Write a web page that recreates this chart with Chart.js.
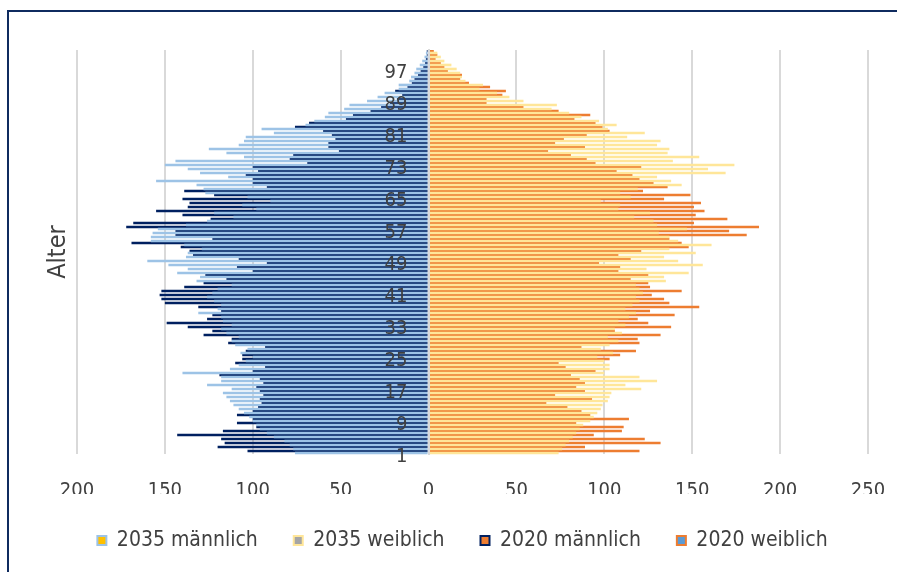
<!DOCTYPE html>
<html lang="de">
<head>
<meta charset="utf-8">
<title>Alterspyramide 2020 / 2035</title>
<script src="https://cdn.jsdelivr.net/npm/chart.js@4.4.1/dist/chart.umd.min.js"></script>
<style>
  html, body { margin: 0; padding: 0; background: #fff; }
  #wrap { position: relative; width: 901px; height: 572px; overflow: hidden; }
  #frame {
    position: absolute; left: 7px; top: 10px; right: 4px; bottom: -10px;
    border-top: 2px solid #0f2b5f; border-left: 2px solid #0f2b5f;
    pointer-events: none;
  }
  canvas { display: block; }
</style>
</head>
<body>
<div id="wrap">
  <canvas id="pyramid" width="901" height="572"></canvas>
  <div id="frame"></div>
</div>
<script>
const ages = [
  1, 2, 3, 4, 5, 6, 7, 8, 9, 10,
  11, 12, 13, 14, 15, 16, 17, 18, 19, 20,
  21, 22, 23, 24, 25, 26, 27, 28, 29, 30,
  31, 32, 33, 34, 35, 36, 37, 38, 39, 40,
  41, 42, 43, 44, 45, 46, 47, 48, 49, 50,
  51, 52, 53, 54, 55, 56, 57, 58, 59, 60,
  61, 62, 63, 64, 65, 66, 67, 68, 69, 70,
  71, 72, 73, 74, 75, 76, 77, 78, 79, 80,
  81, 82, 83, 84, 85, 86, 87, 88, 89, 90,
  91, 92, 93, 94, 95, 96, 97, 98, 99, 100,
  101
];
const ageTicks = [1, 9, 17, 25, 33, 41, 49, 57, 65, 73, 81, 89, 97];

// values per age, 1 .. 101
const male2035 = [
  76, 77, 79, 82, 88, 92, 96, 98, 100, 102,
  105, 108, 111, 113, 115, 117, 112, 126, 118, 118,
  140, 113, 108, 104, 100, 107, 103, 110, 112, 108,
  115, 118, 112, 117, 118, 131, 120, 118, 122, 126,
  123, 120, 112, 132, 130, 143, 137, 148, 160, 138,
  137, 129, 139, 158, 158, 157, 154, 138, 126, 111,
  122, 98, 106, 90, 103, 127, 128, 132, 155, 114,
  130, 137, 150, 144, 105, 115, 125, 108, 105, 104,
  88, 95, 70, 65, 59, 57, 48, 45, 35, 29,
  25, 17, 17, 11, 10, 8, 7, 5, 3.6, 2.3,
  1.5
];
const female2035 = [
  74, 76, 78, 80, 82, 84, 86, 88, 92, 94,
  96, 98, 99, 102, 103, 104, 121, 112, 130, 120,
  100, 103, 103, 100, 96, 105, 98, 103, 108, 102,
  110, 106, 112, 108, 114, 118, 112, 116, 120, 118,
  122, 120, 118, 135, 134, 148, 124, 156, 142, 134,
  152, 137, 161, 142, 137, 131, 147, 130, 128, 117,
  126, 108, 109, 98, 115, 109, 119, 144, 138, 130,
  169, 159, 174, 139, 154, 136, 137, 130, 132, 113,
  123, 102, 107, 97, 87, 80, 70, 73, 54, 46,
  39, 29, 31, 21, 19, 18, 16, 13, 9, 7,
  5
];
const male2020 = [
  103, 120, 116, 118, 143, 117, 98, 109, 100, 109,
  100, 97, 95, 96, 94, 96, 98, 94, 96, 119,
  100, 93, 110, 106, 106, 104, 93, 114, 112, 128,
  123, 137, 149, 126, 123, 118, 131, 150, 152, 153,
  152, 139, 128, 115, 127, 100, 109, 92, 108, 134,
  136, 141, 169, 123, 144, 144, 172, 168, 124, 140,
  155, 137, 136, 140, 122, 139, 92, 100, 100, 104,
  97, 100, 69, 79, 77, 51, 57, 57, 53, 55,
  60, 76, 68, 47, 43, 33, 27, 22, 18, 15,
  19, 12, 9.5, 8, 6, 4.5, 3, 2, 1.5, 1,
  1
];
const female2020 = [
  120, 89, 132, 123, 94, 110, 111, 84, 114, 92,
  87, 79, 67, 93, 72, 89, 84, 89, 86, 81,
  95, 78, 74, 103, 109, 118, 87, 120, 119, 132,
  106, 138, 125, 119, 140, 126, 154, 137, 134, 127,
  144, 126, 125, 115, 125, 108, 109, 97, 115, 108,
  121, 148, 144, 137, 181, 171, 188, 151, 170, 152,
  157, 151, 155, 134, 149, 122, 136, 128, 120, 116,
  107, 121, 95, 90, 81, 68, 89, 72, 77, 90,
  103, 99, 95, 83, 92, 74, 54, 33, 33, 42,
  44, 35, 23, 18, 19, 11, 9, 7, 4, 5,
  3
];

const FONT = "'DejaVu Sans Condensed', 'DejaVu Sans', sans-serif";
const TEXT = '#404040';
const GRID = '#d9d9d9';

// category axis puts its first label at the top, so oldest age goes first
const rows = ages.slice().reverse();
const down = arr => arr.slice().reverse();
const leftSide = arr => down(arr).map(v => -v);

// legend keys as in the original workbook (fill and outline swapped around)
const legendKeys = [
  { fill: '#ffc000', stroke: '#9dc3e6' },
  { fill: '#a5a5a5', stroke: '#ffe699' },
  { fill: '#ed7d31', stroke: '#002060' },
  { fill: '#5b9bd5', stroke: '#ed7d31' }
];

const datasets = [
  { label: '2035 männlich', data: leftSide(male2035), backgroundColor: '#9dc3e6', stack: '2035', order: 1 },
  { label: '2035 weiblich', data: down(female2035), backgroundColor: '#ffe699', stack: '2035', order: 1 },
  { label: '2020 männlich', data: leftSide(male2020), backgroundColor: '#002060', stack: '2020', order: 0 },
  { label: '2020 weiblich', data: down(female2020), backgroundColor: '#ed7d31', stack: '2020', order: 0 }
];

// the 2020 bars sit in the upper half of each age row, but like in Excel the
// 2035 bars overlap them and are painted on top
const paint2035Last = {
  id: 'paint2035Last',
  beforeDatasetDraw(chart, args) {
    if (chart.data.datasets[args.index].stack === '2035') return false;
  },
  afterDatasetsDraw(chart) {
    chart.data.datasets.forEach((ds, i) => {
      if (ds.stack === '2035' && chart.isDatasetVisible(i)) {
        chart.getDatasetMeta(i).controller.draw();
      }
    });
  }
};

// legend row sits a bit right of the plot centre in the original
const legendNudge = {
  id: 'legendNudge',
  afterLayout(chart) {
    if (chart.legend) chart.legend.left += 14;
  }
};

new Chart(document.getElementById('pyramid'), {
  type: 'bar',
  data: { labels: rows, datasets: datasets },
  plugins: [paint2035Last, legendNudge],
  options: {
    indexAxis: 'y',
    responsive: false,
    animation: false,
    layout: { padding: { left: 43, right: 33, top: 50, bottom: 11 } },
    datasets: {
      bar: { categoryPercentage: 1, barPercentage: 1.33, borderWidth: 0 }
    },
    plugins: {
      tooltip: { enabled: false },
      legend: {
        position: 'bottom',
        labels: {
          font: { family: FONT, size: 21 },
          color: TEXT,
          boxWidth: 9,
          boxHeight: 9,
          padding: 36,
          generateLabels(chart) {
            return chart.data.datasets.map((ds, i) => ({
              text: ds.label,
              fillStyle: legendKeys[i].fill,
              strokeStyle: legendKeys[i].stroke,
              lineWidth: 2,
              fontColor: TEXT,
              hidden: !chart.isDatasetVisible(i),
              datasetIndex: i
            }));
          }
        }
      }
    },
    scales: {
      x: {
        stacked: true,
        min: -200,
        max: 250,
        ticks: {
          stepSize: 50,
          padding: 3,
          color: TEXT,
          // tall line box pushes the labels down without widening the side padding
          font: { family: FONT, size: 20, lineHeight: 3.4 },
          callback: v => Math.abs(v)
        },
        grid: { color: GRID, lineWidth: 2, drawTicks: false },
        border: { display: false },
        afterFit(scale) { scale.height = 40; }
      },
      y: {
        type: 'category',
        stacked: true,
        position: { x: -12 },
        ticks: {
          z: 1,
          autoSkip: false,
          labelOffset: 5,
          color: TEXT,
          font: { family: FONT, size: 20 },
          callback(value, index) {
            const age = rows[index];
            return ageTicks.includes(age) ? String(age) : '';
          }
        },
        grid: { display: false, drawTicks: false },
        border: { display: false }
      },
      // vertical axis line through zero, drawn over the bars
      yZero: {
        type: 'category',
        axis: 'y',
        position: { x: 0 },
        ticks: { display: false },
        grid: { display: false, drawTicks: false },
        border: { display: true, color: GRID, width: 2, z: 1 }
      },
      yTitle: {
        type: 'category',
        axis: 'y',
        position: 'left',
        ticks: { display: false },
        grid: { display: false, drawTicks: false },
        border: { display: false },
        title: {
          display: true,
          text: 'Alter',
          color: TEXT,
          font: { family: FONT, size: 25 },
          padding: { top: 0, bottom: 4 }
        }
      }
    }
  }
});
</script>
</body>
</html>
